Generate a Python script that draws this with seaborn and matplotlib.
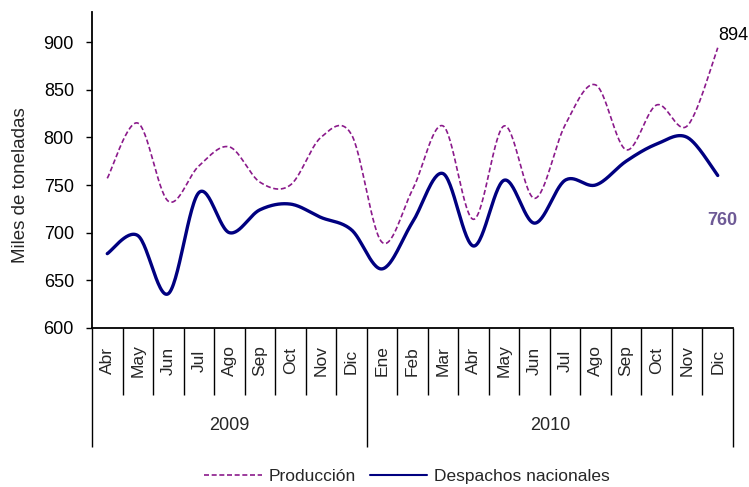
import numpy as np
import pandas as pd
import matplotlib
matplotlib.use("Agg")
import matplotlib.pyplot as plt
import matplotlib.transforms as mtransforms
from matplotlib.lines import Line2D
import seaborn as sns

# Data
months = ["Abr", "May", "Jun", "Jul", "Ago", "Sep", "Oct", "Nov", "Dic",
          "Ene", "Feb", "Mar", "Abr", "May", "Jun", "Jul", "Ago", "Sep", "Oct", "Nov", "Dic"]
years = ["2009", "2010"]
year_sizes = [9, 12]
produccion = [757, 815, 733, 770, 790, 753, 750, 800, 803,
              690, 745, 812, 714, 812, 736, 813, 855, 787, 834, 812, 894]
despachos = [678, 697, 636, 742, 700, 724, 730, 716, 703,
             662, 711, 762, 686, 755, 710, 755, 750, 775, 793, 800, 760]

sns.set_theme(style="ticks")
plt.rcParams["font.family"] = ["Liberation Sans", "DejaVu Sans"]


def smooth(values, n=30):
    # Excel-style smoothed line (Catmull-Rom / Bezier), for display only
    y = np.asarray(values, dtype=float)
    x = np.arange(len(y), dtype=float)
    xs, ys = [], []
    for i in range(len(y) - 1):
        p0 = (x[max(i - 1, 0)], y[max(i - 1, 0)])
        p1 = (x[i], y[i])
        p2 = (x[i + 1], y[i + 1])
        p3 = (x[min(i + 2, len(y) - 1)], y[min(i + 2, len(y) - 1)])
        c1 = (p1[0] + (p2[0] - p0[0]) / 6, p1[1] + (p2[1] - p0[1]) / 6)
        c2 = (p2[0] - (p3[0] - p1[0]) / 6, p2[1] - (p3[1] - p1[1]) / 6)
        t = np.linspace(0, 1, n, endpoint=False)
        b = [(1 - t) ** 3, 3 * (1 - t) ** 2 * t, 3 * (1 - t) * t ** 2, t ** 3]
        xs.append(b[0] * p1[0] + b[1] * c1[0] + b[2] * c2[0] + b[3] * p2[0])
        ys.append(b[0] * p1[1] + b[1] * c1[1] + b[2] * c2[1] + b[3] * p2[1])
    xs.append([x[-1]])
    ys.append([y[-1]])
    return pd.DataFrame({"x": np.concatenate(xs), "y": np.concatenate(ys)})


prod_color = "#8B1A8B"
desp_color = "#000080"

fig = plt.figure(figsize=(7.49, 4.87), dpi=100)
ax = fig.add_axes([92 / 749, (487 - 328) / 487, 641 / 749, 316 / 487])

sns.lineplot(data=smooth(produccion), x="x", y="y", ax=ax, sort=False, estimator=None,
             color=prod_color, linewidth=1.2)
ax.lines[-1].set_dashes((3, 1.6))
sns.lineplot(data=smooth(despachos), x="x", y="y", ax=ax, sort=False, estimator=None,
             color=desp_color, linewidth=2.4)

ax.set_xlim(-0.5, len(months) - 0.5)
ax.set_ylim(600, 931.5)
ax.set_yticks(range(600, 901, 50))
ax.tick_params(axis="y", labelsize=13, length=4, width=1, direction="out", pad=9, colors="black")
ax.set_ylabel("Miles de toneladas", fontsize=13.5)
ax.yaxis.set_label_coords(-0.099, 0.4525)
ax.set_xlabel("")

# category axis: month separators and year separators
bounds = np.arange(-0.5, len(months), 1.0)
year_bounds = np.concatenate([[-0.5], np.cumsum(year_sizes) - 0.5])
ax.set_xticks(year_bounds)
ax.set_xticklabels([])
ax.set_xticks(bounds, minor=True)
ax.tick_params(axis="x", which="major", length=86, width=1, direction="out", color="black")
ax.tick_params(axis="x", which="minor", length=48.5, width=1, direction="out", color="black")

trans = mtransforms.blended_transform_factory(ax.transData, ax.transAxes)
for i, m in enumerate(months):
    ax.text(i, -33 / 316, m, rotation=90, ha="center", va="center", fontsize=12.5, transform=trans)
start = 0
for yr, size in zip(years, year_sizes):
    ax.text(start + (size - 1) / 2, -97 / 316, yr, ha="center", va="center", fontsize=13, transform=trans)
    start += size

for side in ["top", "right"]:
    ax.spines[side].set_visible(False)
for side in ["left", "bottom"]:
    ax.spines[side].set_color("black")
    ax.spines[side].set_linewidth(1.3)

# end labels
ax.annotate(str(produccion[-1]), xy=(len(months) - 1, produccion[-1]), xytext=(1, 4),
            textcoords="offset pixels", ha="left", va="bottom", fontsize=13, color="black")
ax.annotate(str(despachos[-1]), xy=(len(months) - 1, despachos[-1]), xytext=(5, -45),
            textcoords="offset pixels", ha="center", va="center", fontsize=13,
            fontweight="bold", color="#6E5A96")

handles = [Line2D([], [], color=prod_color, linewidth=1.2, dashes=(3, 1.6)),
           Line2D([], [], color=desp_color, linewidth=1.5)]
fig.legend(handles, ["Producción", "Despachos nacionales"], loc="center",
           bbox_to_anchor=(407 / 749, 1 - 476 / 487), ncol=2, frameon=False,
           fontsize=12.5, handlelength=3.3, columnspacing=0.8, handletextpad=0.4)

fig.savefig("out.png", dpi=100, facecolor="white")
